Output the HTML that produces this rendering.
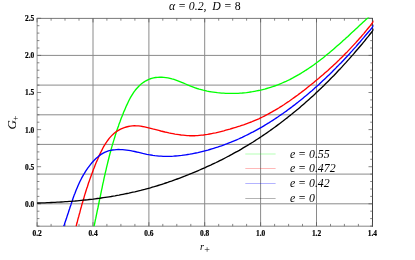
<!DOCTYPE html>
<html><head><meta charset="utf-8"><title>plot</title>
<style>html,body{margin:0;padding:0;background:#fff;}body{width:415px;height:260px;position:relative;overflow:hidden;font-family:"Liberation Serif",serif;}</style>
</head><body>
<svg width="415" height="260" viewBox="0 0 415 260" style="position:absolute;left:0;top:0;will-change:transform">
<path d="M93.0,18.4 V226.2 M148.9,18.4 V226.2 M204.7,18.4 V226.2 M260.6,18.4 V226.2 M316.5,18.4 V226.2 M37.1,203.8 H372.5 M37.1,174.1 H372.5 M37.1,144.4 H372.5 M37.1,114.8 H372.5 M37.1,85.1 H372.5 M37.1,55.4 H372.5" stroke="#8a8a8a" stroke-width="1" fill="none"/>
<path d="M36.7,18.4 H372.9" stroke="#6a6a6a" stroke-width="0.9"/><path d="M36.7,226.2 H372.9" stroke="#777" stroke-width="0.9"/><path d="M37.1,18 V226.6" stroke="#909090" stroke-width="1"/><path d="M372.5,18 V226.6" stroke="#2a2a2a" stroke-width="0.9"/>
<path d="M37.1,226.2 v-4.0 M37.1,18.4 v4.0 M51.1,226.2 v-2.3 M51.1,18.4 v2.3 M65.0,226.2 v-2.3 M65.0,18.4 v2.3 M79.0,226.2 v-2.3 M79.0,18.4 v2.3 M93.0,226.2 v-4.0 M93.0,18.4 v4.0 M106.9,226.2 v-2.3 M106.9,18.4 v2.3 M120.9,226.2 v-2.3 M120.9,18.4 v2.3 M134.9,226.2 v-2.3 M134.9,18.4 v2.3 M148.9,226.2 v-4.0 M148.9,18.4 v4.0 M162.8,226.2 v-2.3 M162.8,18.4 v2.3 M176.8,226.2 v-2.3 M176.8,18.4 v2.3 M190.8,226.2 v-2.3 M190.8,18.4 v2.3 M204.7,226.2 v-4.0 M204.7,18.4 v4.0 M218.7,226.2 v-2.3 M218.7,18.4 v2.3 M232.7,226.2 v-2.3 M232.7,18.4 v2.3 M246.6,226.2 v-2.3 M246.6,18.4 v2.3 M260.6,226.2 v-4.0 M260.6,18.4 v4.0 M274.6,226.2 v-2.3 M274.6,18.4 v2.3 M288.6,226.2 v-2.3 M288.6,18.4 v2.3 M302.5,226.2 v-2.3 M302.5,18.4 v2.3 M316.5,226.2 v-4.0 M316.5,18.4 v4.0 M330.5,226.2 v-2.3 M330.5,18.4 v2.3 M344.4,226.2 v-2.3 M344.4,18.4 v2.3 M358.4,226.2 v-2.3 M358.4,18.4 v2.3 M372.4,226.2 v-4.0 M372.4,18.4 v4.0 M37.1,226.1 h2.3 M372.5,226.1 h-2.3 M37.1,218.6 h2.3 M372.5,218.6 h-2.3 M37.1,211.2 h2.3 M372.5,211.2 h-2.3 M37.1,203.8 h4.0 M372.5,203.8 h-4.0 M37.1,196.4 h2.3 M372.5,196.4 h-2.3 M37.1,189.0 h2.3 M372.5,189.0 h-2.3 M37.1,181.5 h2.3 M372.5,181.5 h-2.3 M37.1,174.1 h2.3 M372.5,174.1 h-2.3 M37.1,166.7 h4.0 M372.5,166.7 h-4.0 M37.1,159.3 h2.3 M372.5,159.3 h-2.3 M37.1,151.9 h2.3 M372.5,151.9 h-2.3 M37.1,144.4 h2.3 M372.5,144.4 h-2.3 M37.1,137.0 h2.3 M372.5,137.0 h-2.3 M37.1,129.6 h4.0 M372.5,129.6 h-4.0 M37.1,122.2 h2.3 M372.5,122.2 h-2.3 M37.1,114.8 h2.3 M372.5,114.8 h-2.3 M37.1,107.3 h2.3 M372.5,107.3 h-2.3 M37.1,99.9 h2.3 M372.5,99.9 h-2.3 M37.1,92.5 h4.0 M372.5,92.5 h-4.0 M37.1,85.1 h2.3 M372.5,85.1 h-2.3 M37.1,77.7 h2.3 M372.5,77.7 h-2.3 M37.1,70.2 h2.3 M372.5,70.2 h-2.3 M37.1,62.8 h2.3 M372.5,62.8 h-2.3 M37.1,55.4 h4.0 M372.5,55.4 h-4.0 M37.1,48.0 h2.3 M372.5,48.0 h-2.3 M37.1,40.6 h2.3 M372.5,40.6 h-2.3 M37.1,33.1 h2.3 M372.5,33.1 h-2.3 M37.1,25.7 h2.3 M372.5,25.7 h-2.3 M37.1,18.3 h4.0 M372.5,18.3 h-4.0" stroke="#555" stroke-width="0.7" fill="none"/>
<clipPath id="c"><rect x="37.1" y="17.4" width="336.4" height="208.99999999999997"/></clipPath>
<g clip-path="url(#c)" fill="none" stroke-width="1.35" stroke-linejoin="round">
<path d="M94.0,226.3 L94.5,224.3 L94.9,222.3 L95.3,220.2 L95.8,218.2 L96.2,216.2 L96.6,214.1 L97.0,212.1 L97.4,210.1 L97.9,208.0 L98.3,206.0 L98.7,204.0 L99.1,202.0 L99.5,199.9 L100.0,197.9 L100.4,195.9 L100.8,193.8 L101.2,191.8 L101.6,189.8 L102.1,187.8 L102.5,185.7 L102.9,183.7 L103.4,181.7 L103.8,179.7 L104.2,177.6 L104.7,175.6 L105.1,173.6 L105.6,171.6 L106.1,169.6 L106.5,167.6 L107.0,165.6 L107.5,163.6 L108.0,161.5 L108.5,159.5 L109.0,157.5 L109.5,155.5 L110.0,153.5 L110.6,151.6 L111.1,149.6 L111.6,147.6 L112.2,145.6 L112.8,143.6 L113.4,141.6 L114.0,139.6 L114.6,137.7 L115.2,135.7 L115.8,133.7 L116.4,131.8 L117.1,129.8 L117.8,127.8 L118.5,125.9 L119.1,123.9 L119.9,122.0 L120.6,120.0 L121.3,118.1 L122.1,116.2 L122.9,114.2 L123.6,112.3 L124.5,110.4 L125.3,108.4 L126.1,106.5 L127.0,104.6 L127.9,102.7 L128.8,100.8 L129.7,99.0 L130.7,97.2 L131.8,95.4 L132.9,93.6 L134.0,91.9 L135.2,90.3 L136.5,88.7 L137.9,87.2 L139.3,85.7 L140.9,84.3 L142.5,83.0 L144.2,81.9 L145.9,80.8 L147.8,79.8 L149.7,79.0 L151.6,78.4 L153.6,77.9 L155.6,77.5 L157.6,77.3 L159.7,77.2 L161.7,77.2 L163.8,77.3 L165.9,77.6 L167.9,77.9 L170.0,78.3 L172.0,78.9 L174.0,79.4 L175.9,80.1 L177.9,80.8 L179.8,81.6 L181.7,82.4 L183.7,83.2 L185.6,84.0 L187.5,84.8 L189.4,85.6 L191.3,86.4 L193.3,87.1 L195.2,87.8 L197.2,88.5 L199.2,89.1 L201.2,89.6 L203.2,90.2 L205.2,90.6 L207.2,91.1 L209.2,91.5 L211.3,91.8 L213.3,92.1 L215.4,92.4 L217.4,92.7 L219.5,92.9 L221.5,93.1 L223.6,93.2 L225.7,93.3 L227.8,93.4 L229.8,93.4 L231.9,93.4 L234.0,93.4 L236.0,93.4 L238.1,93.3 L240.2,93.1 L242.3,93.0 L244.3,92.8 L246.4,92.6 L248.4,92.3 L250.5,92.0 L252.5,91.7 L254.6,91.3 L256.6,90.9 L258.7,90.5 L260.7,90.1 L262.7,89.6 L264.7,89.1 L266.7,88.5 L268.7,87.9 L270.6,87.3 L272.6,86.7 L274.6,86.0 L276.5,85.3 L278.4,84.6 L280.3,83.8 L282.2,83.0 L284.1,82.2 L286.0,81.4 L287.8,80.5 L289.7,79.6 L291.5,78.6 L293.3,77.7 L295.1,76.7 L296.9,75.7 L298.7,74.7 L300.5,73.6 L302.2,72.5 L304.0,71.4 L305.7,70.3 L307.5,69.2 L309.2,68.0 L310.9,66.9 L312.6,65.7 L314.3,64.5 L315.9,63.2 L317.6,62.0 L319.3,60.7 L320.9,59.5 L322.6,58.2 L324.2,56.9 L325.8,55.6 L327.4,54.3 L329.1,52.9 L330.7,51.6 L332.3,50.2 L333.8,48.9 L335.4,47.5 L337.0,46.1 L338.6,44.7 L340.1,43.4 L341.7,42.0 L343.2,40.6 L344.8,39.2 L346.3,37.8 L347.9,36.4 L349.4,34.9 L350.9,33.5 L352.5,32.1 L354.0,30.7 L355.5,29.3 L357.0,27.9 L358.5,26.5 L360.0,25.1 L361.5,23.7 L363.0,22.3 L364.5,20.9 L366.0,19.5 L367.5,18.2 L369.0,16.8 L370.5,15.5 L372.0,14.1" stroke="#00ff00"/>
<path d="M76.1,226.4 L76.6,224.3 L77.2,222.3 L77.7,220.2 L78.2,218.2 L78.8,216.2 L79.3,214.2 L79.9,212.2 L80.4,210.2 L80.9,208.2 L81.5,206.2 L82.0,204.2 L82.6,202.2 L83.2,200.3 L83.8,198.3 L84.3,196.4 L84.9,194.4 L85.5,192.5 L86.1,190.5 L86.7,188.6 L87.4,186.7 L88.0,184.7 L88.6,182.8 L89.3,180.9 L90.0,178.9 L90.7,177.0 L91.4,175.1 L92.1,173.2 L92.8,171.3 L93.5,169.3 L94.3,167.4 L95.0,165.5 L95.8,163.6 L96.6,161.6 L97.5,159.7 L98.3,157.8 L99.1,155.9 L100.0,153.9 L100.9,152.0 L101.9,150.1 L102.8,148.3 L103.8,146.4 L104.9,144.6 L106.0,142.8 L107.2,141.1 L108.4,139.5 L109.6,137.9 L111.0,136.4 L112.4,134.9 L113.9,133.6 L115.4,132.3 L117.1,131.1 L118.8,130.1 L120.6,129.1 L122.4,128.3 L124.3,127.6 L126.3,127.0 L128.3,126.5 L130.3,126.1 L132.4,125.9 L134.4,125.7 L136.4,125.8 L138.5,125.9 L140.5,126.1 L142.6,126.5 L144.6,126.8 L146.6,127.3 L148.7,127.8 L150.7,128.3 L152.7,128.9 L154.8,129.4 L156.8,129.9 L158.8,130.4 L160.8,131.0 L162.9,131.5 L164.9,132.0 L166.9,132.4 L168.9,132.9 L171.0,133.3 L173.0,133.7 L175.0,134.1 L177.0,134.4 L179.0,134.7 L181.1,135.0 L183.1,135.2 L185.1,135.4 L187.1,135.6 L189.2,135.7 L191.2,135.7 L193.3,135.7 L195.3,135.7 L197.3,135.6 L199.4,135.4 L201.4,135.2 L203.5,135.0 L205.5,134.7 L207.6,134.4 L209.6,134.0 L211.7,133.6 L213.7,133.2 L215.7,132.8 L217.8,132.3 L219.8,131.8 L221.8,131.3 L223.8,130.8 L225.8,130.2 L227.9,129.6 L229.9,129.1 L231.8,128.5 L233.8,127.9 L235.8,127.3 L237.8,126.7 L239.7,126.1 L241.7,125.4 L243.6,124.8 L245.5,124.1 L247.5,123.4 L249.4,122.7 L251.3,122.0 L253.2,121.2 L255.0,120.4 L256.9,119.6 L258.8,118.8 L260.6,117.9 L262.5,117.0 L264.3,116.1 L266.1,115.2 L268.0,114.2 L269.8,113.2 L271.6,112.2 L273.3,111.2 L275.1,110.2 L276.9,109.1 L278.7,108.0 L280.4,106.9 L282.2,105.8 L283.9,104.7 L285.6,103.5 L287.3,102.4 L289.1,101.2 L290.8,100.0 L292.5,98.8 L294.1,97.6 L295.8,96.4 L297.5,95.2 L299.2,93.9 L300.8,92.7 L302.5,91.4 L304.1,90.2 L305.8,88.9 L307.4,87.6 L309.0,86.3 L310.6,85.0 L312.2,83.7 L313.8,82.4 L315.4,81.1 L317.0,79.8 L318.6,78.5 L320.2,77.1 L321.7,75.8 L323.3,74.5 L324.8,73.1 L326.4,71.7 L327.9,70.4 L329.4,69.0 L331.0,67.6 L332.5,66.2 L334.0,64.8 L335.5,63.4 L337.0,62.0 L338.5,60.6 L339.9,59.1 L341.4,57.7 L342.9,56.3 L344.3,54.8 L345.7,53.3 L347.2,51.9 L348.6,50.4 L350.0,48.9 L351.4,47.4 L352.8,45.9 L354.2,44.4 L355.6,42.9 L357.0,41.3 L358.4,39.8 L359.7,38.3 L361.1,36.7 L362.4,35.1 L363.8,33.6 L365.1,32.0 L366.4,30.4 L367.7,28.8 L369.0,27.2 L370.3,25.6 L371.6,23.9 L372.9,22.3 L374.2,20.7 L375.4,19.0 L376.7,17.3 L377.9,15.7" stroke="#ff0000"/>
<path d="M63.7,226.3 L64.4,224.4 L65.0,222.5 L65.7,220.5 L66.4,218.6 L67.0,216.6 L67.6,214.7 L68.3,212.7 L68.9,210.8 L69.6,208.8 L70.2,206.8 L70.9,204.9 L71.5,202.9 L72.2,201.0 L72.8,199.0 L73.5,197.1 L74.2,195.1 L75.0,193.2 L75.7,191.3 L76.5,189.3 L77.3,187.4 L78.1,185.5 L78.9,183.7 L79.8,181.8 L80.7,180.0 L81.6,178.2 L82.6,176.4 L83.6,174.6 L84.7,172.8 L85.7,171.1 L86.9,169.4 L88.1,167.7 L89.3,166.1 L90.6,164.4 L91.9,162.8 L93.3,161.3 L94.7,159.8 L96.2,158.3 L97.8,156.9 L99.4,155.6 L101.0,154.4 L102.8,153.3 L104.6,152.4 L106.5,151.6 L108.4,150.9 L110.4,150.4 L112.4,150.0 L114.4,149.8 L116.4,149.6 L118.5,149.5 L120.5,149.6 L122.5,149.7 L124.6,149.8 L126.6,150.1 L128.6,150.4 L130.6,150.7 L132.6,151.1 L134.7,151.5 L136.7,152.0 L138.7,152.4 L140.7,152.9 L142.7,153.4 L144.8,153.8 L146.8,154.3 L148.8,154.7 L150.9,155.0 L152.9,155.4 L154.9,155.7 L157.0,155.9 L159.0,156.1 L161.1,156.2 L163.1,156.3 L165.2,156.4 L167.3,156.4 L169.3,156.3 L171.4,156.3 L173.4,156.2 L175.5,156.0 L177.6,155.9 L179.6,155.6 L181.7,155.4 L183.7,155.1 L185.8,154.8 L187.8,154.5 L189.8,154.2 L191.9,153.8 L193.9,153.4 L195.9,153.0 L197.9,152.6 L199.9,152.1 L201.9,151.6 L203.9,151.1 L205.9,150.6 L207.9,150.1 L209.8,149.5 L211.8,148.9 L213.7,148.3 L215.7,147.7 L217.6,147.1 L219.6,146.4 L221.5,145.8 L223.4,145.1 L225.3,144.4 L227.2,143.7 L229.1,142.9 L231.0,142.2 L232.9,141.4 L234.8,140.6 L236.7,139.8 L238.5,139.0 L240.4,138.1 L242.2,137.3 L244.1,136.4 L245.9,135.5 L247.8,134.6 L249.6,133.7 L251.4,132.7 L253.2,131.8 L255.0,130.8 L256.8,129.8 L258.6,128.8 L260.4,127.8 L262.2,126.8 L263.9,125.8 L265.7,124.7 L267.4,123.6 L269.2,122.6 L270.9,121.5 L272.7,120.4 L274.4,119.2 L276.1,118.1 L277.8,117.0 L279.5,115.8 L281.2,114.6 L282.9,113.5 L284.6,112.3 L286.3,111.1 L288.0,109.8 L289.6,108.6 L291.3,107.4 L292.9,106.1 L294.6,104.9 L296.2,103.6 L297.9,102.3 L299.5,101.0 L301.1,99.7 L302.7,98.4 L304.3,97.1 L305.9,95.8 L307.5,94.4 L309.1,93.1 L310.6,91.7 L312.2,90.4 L313.8,89.0 L315.3,87.6 L316.9,86.2 L318.4,84.9 L319.9,83.5 L321.5,82.0 L323.0,80.6 L324.5,79.2 L326.0,77.8 L327.5,76.3 L329.0,74.9 L330.5,73.5 L332.0,72.0 L333.4,70.5 L334.9,69.1 L336.3,67.6 L337.8,66.1 L339.2,64.6 L340.7,63.2 L342.1,61.7 L343.5,60.2 L344.9,58.7 L346.3,57.2 L347.7,55.7 L349.1,54.2 L350.5,52.6 L351.9,51.1 L353.2,49.6 L354.6,48.1 L356.0,46.6 L357.3,45.0 L358.6,43.5 L360.0,42.0 L361.3,40.4 L362.6,38.9 L363.9,37.4 L365.2,35.8 L366.5,34.3 L367.8,32.7 L369.1,31.2 L370.4,29.7 L371.7,28.1 L372.9,26.6 L374.2,25.0 L375.4,23.5 L376.7,21.9 L377.9,20.4" stroke="#0000ff"/>
<path d="M37.0,203.0 L39.0,203.0 L41.0,202.9 L43.0,202.8 L45.0,202.8 L47.0,202.7 L49.1,202.6 L51.1,202.5 L53.1,202.4 L55.1,202.3 L57.1,202.2 L59.1,202.1 L61.1,202.0 L63.2,201.9 L65.2,201.7 L67.2,201.6 L69.2,201.4 L71.2,201.3 L73.2,201.1 L75.2,201.0 L77.2,200.8 L79.2,200.6 L81.2,200.4 L83.2,200.2 L85.2,200.0 L87.2,199.8 L89.2,199.5 L91.2,199.3 L93.2,199.1 L95.2,198.8 L97.2,198.5 L99.2,198.3 L101.2,198.0 L103.2,197.7 L105.2,197.4 L107.2,197.1 L109.2,196.8 L111.2,196.5 L113.2,196.1 L115.1,195.8 L117.1,195.4 L119.1,195.1 L121.1,194.7 L123.0,194.3 L125.0,193.9 L127.0,193.5 L128.9,193.1 L130.9,192.6 L132.9,192.2 L134.8,191.8 L136.8,191.3 L138.7,190.8 L140.7,190.4 L142.6,189.9 L144.6,189.4 L146.5,188.8 L148.5,188.3 L150.4,187.8 L152.3,187.2 L154.3,186.7 L156.2,186.1 L158.1,185.5 L160.0,184.9 L162.0,184.3 L163.9,183.7 L165.8,183.0 L167.7,182.4 L169.6,181.7 L171.5,181.1 L173.4,180.4 L175.3,179.7 L177.2,179.0 L179.1,178.3 L181.0,177.6 L182.8,176.9 L184.7,176.2 L186.6,175.4 L188.5,174.7 L190.3,173.9 L192.2,173.2 L194.1,172.4 L195.9,171.6 L197.8,170.8 L199.6,170.0 L201.5,169.2 L203.3,168.4 L205.2,167.6 L207.0,166.7 L208.8,165.9 L210.7,165.1 L212.5,164.2 L214.3,163.3 L216.1,162.5 L218.0,161.6 L219.8,160.7 L221.6,159.8 L223.4,158.9 L225.1,158.0 L226.9,157.0 L228.7,156.1 L230.5,155.1 L232.3,154.2 L234.0,153.2 L235.8,152.2 L237.5,151.3 L239.3,150.3 L241.0,149.3 L242.8,148.2 L244.5,147.2 L246.2,146.2 L247.9,145.1 L249.6,144.1 L251.4,143.0 L253.1,142.0 L254.8,140.9 L256.4,139.8 L258.1,138.7 L259.8,137.6 L261.5,136.5 L263.1,135.4 L264.8,134.2 L266.5,133.1 L268.1,132.0 L269.8,130.8 L271.4,129.6 L273.0,128.5 L274.7,127.3 L276.3,126.1 L277.9,124.9 L279.5,123.7 L281.1,122.5 L282.7,121.3 L284.3,120.0 L285.9,118.8 L287.5,117.6 L289.0,116.3 L290.6,115.1 L292.2,113.8 L293.7,112.5 L295.3,111.2 L296.8,110.0 L298.4,108.7 L299.9,107.4 L301.4,106.1 L303.0,104.7 L304.5,103.4 L306.0,102.1 L307.5,100.8 L309.0,99.4 L310.5,98.1 L312.0,96.7 L313.5,95.4 L315.0,94.0 L316.4,92.6 L317.9,91.2 L319.4,89.8 L320.8,88.5 L322.3,87.1 L323.7,85.7 L325.1,84.2 L326.6,82.8 L328.0,81.4 L329.4,80.0 L330.8,78.5 L332.3,77.1 L333.7,75.7 L335.1,74.2 L336.5,72.8 L337.8,71.3 L339.2,69.8 L340.6,68.4 L342.0,66.9 L343.3,65.4 L344.7,63.9 L346.1,62.4 L347.4,60.9 L348.8,59.4 L350.1,57.9 L351.4,56.4 L352.8,54.9 L354.1,53.4 L355.4,51.8 L356.7,50.3 L358.0,48.8 L359.3,47.2 L360.6,45.7 L361.9,44.2 L363.2,42.6 L364.5,41.1 L365.7,39.5 L367.0,37.9 L368.3,36.4 L369.5,34.8 L370.8,33.2 L372.0,31.6 L373.2,30.1 L374.5,28.5 L375.7,26.9 L376.9,25.3 L378.1,23.7" stroke="#000000"/>
</g>
<path d="M245.3,154.0 H275.6" stroke="#00ff00" stroke-width="0.5" opacity="0.6"/>
<path d="M245.3,168.45 H275.6" stroke="#ff0000" stroke-width="0.5" opacity="0.6"/>
<path d="M245.3,183.5 H275.6" stroke="#0000ff" stroke-width="0.5" opacity="0.6"/>
<path d="M245.3,198.5 H275.6" stroke="#000000" stroke-width="0.5" opacity="0.6"/>
<g font-family="Liberation Serif, serif" fill="#000">
<g font-weight="bold" font-size="7.4" text-anchor="middle" stroke="#000" stroke-width="0.2">
<text x="37.1" y="235.6">0.2</text>
<text x="93.0" y="235.6">0.4</text>
<text x="148.9" y="235.6">0.6</text>
<text x="204.7" y="235.6">0.8</text>
<text x="260.6" y="235.6">1.0</text>
<text x="316.5" y="235.6">1.2</text>
<text x="372.4" y="235.6">1.4</text>
</g><g font-weight="bold" font-size="7.4" text-anchor="end" stroke="#000" stroke-width="0.2">
<text x="34.3" y="206.7">0.0</text>
<text x="34.3" y="169.6">0.5</text>
<text x="34.3" y="132.5">1.0</text>
<text x="34.3" y="95.4">1.5</text>
<text x="34.3" y="58.3">2.0</text>
<text x="34.3" y="21.2">2.5</text>
</g>
<g font-style="italic" font-size="11.8">
<text x="289.9" y="157.5">e = 0.55</text>
<text x="289.9" y="172.0">e = 0.472</text>
<text x="289.9" y="186.8">e = 0.42</text>
<text x="289.9" y="201.6">e = 0</text>
</g>
<text x="168.9" y="9.5" font-style="italic" font-size="11.8" word-spacing="-0.05" style="white-space:pre">α = 0.2,  D = <tspan font-style="normal">8</tspan></text>
<text x="199.9" y="249.9" font-style="italic" font-size="10.2">r<tspan font-size="10" dy="3.1" dx="0.5" font-style="normal">+</tspan></text>
<text transform="translate(16.1,129.6) rotate(-90)" font-style="italic" font-size="13">G<tspan font-size="9" dy="2.2" dx="-0.6" font-style="normal">+</tspan></text>
</g>
</svg>
</body></html>
